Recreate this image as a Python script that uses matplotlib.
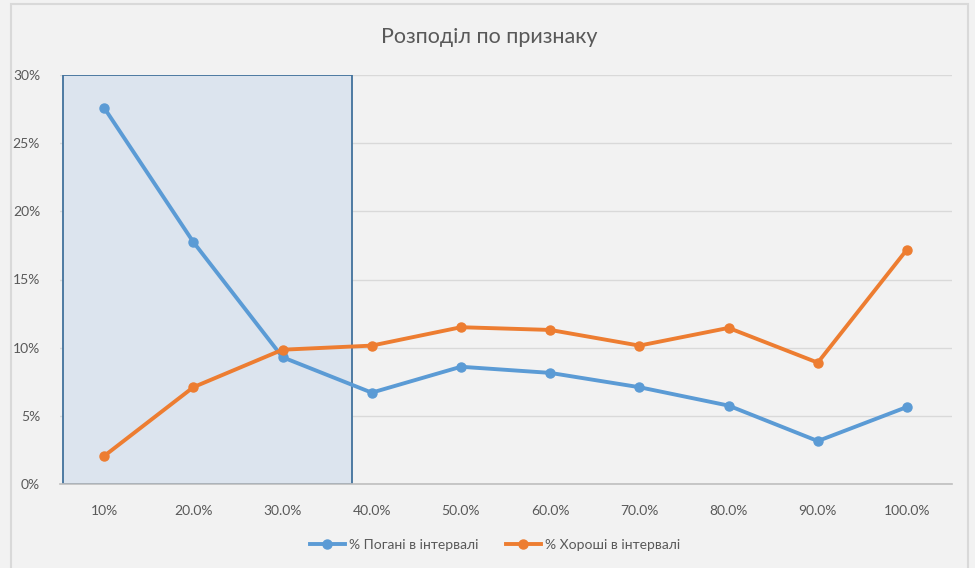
import matplotlib.pyplot as plt
from matplotlib.patches import Rectangle
from matplotlib.ticker import FuncFormatter

plt.rcParams['font.family'] = ['Lato', 'DejaVu Sans']

categories = ['10%', '20.0%', '30.0%', '40.0%', '50.0%', '60.0%', '70.0%', '80.0%', '90.0%', '100.0%']
bad = [27.6, 17.75, 9.3, 6.7, 8.6, 8.15, 7.1, 5.75, 3.15, 5.65]
good = [2.05, 7.1, 9.85, 10.15, 11.5, 11.3, 10.15, 11.45, 8.9, 17.2]

fig = plt.figure(figsize=(9.75, 5.68), dpi=100, facecolor='#f2f2f2')

# chart border
fig.add_artist(Rectangle((10.5 / 975, -0.1), (968 - 10.5) / 975, 1.1 - 4.5 / 568,
                         transform=fig.transFigure, facecolor='none',
                         edgecolor='#d9d9d9', linewidth=1.5))

ax = fig.add_axes([59.5 / 975, 1 - 484 / 568, (951.6 - 59.5) / 975, (484 - 75) / 568])
ax.set_facecolor('#f2f2f2')

x = list(range(len(categories)))
ax.add_patch(Rectangle((-0.46, 0), 3.24, 30, facecolor='#dce4ee',
                       edgecolor='#41719c', linewidth=1.3, zorder=1))

ax.plot(x, bad, color='#5b9bd5', linewidth=2.8, marker='o', markersize=6.5,
        label='% Погані в інтервалі', zorder=3)
ax.plot(x, good, color='#ed7d31', linewidth=2.8, marker='o', markersize=6.5,
        label='% Хороші в інтервалі', zorder=3)

ax.set_xlim(-0.5, len(categories) - 0.5)
ax.set_ylim(0, 30)
ax.set_yticks(range(0, 31, 5))
ax.yaxis.set_major_formatter(FuncFormatter(lambda v, p: f'{v:.0f}%'))
ax.set_xticks(x)
ax.set_xticklabels(categories)
ax.grid(axis='y', color='#d9d9d9', linewidth=1, zorder=0)
ax.set_axisbelow(True)
for s in ['top', 'right', 'left']:
    ax.spines[s].set_visible(False)
ax.spines['bottom'].set_color('#bfbfbf')
ax.spines['bottom'].set_linewidth(1.2)
ax.tick_params(length=0, colors='#595959', labelsize=10)
ax.tick_params(axis='x', pad=15)
ax.tick_params(axis='y', pad=14)

fig.text(489 / 975, 1 - 37 / 568, 'Розподіл по признаку', ha='center', va='center',
         fontsize=15.5, color='#595959')

fig.legend(loc='center', bbox_to_anchor=(495 / 975, 1 - 545 / 568), ncol=2,
           frameon=False, fontsize=10, labelcolor='#595959', handlelength=2.5,
           columnspacing=2.0, handletextpad=0.3)

fig.savefig('out.png', dpi=100, facecolor=fig.get_facecolor())
